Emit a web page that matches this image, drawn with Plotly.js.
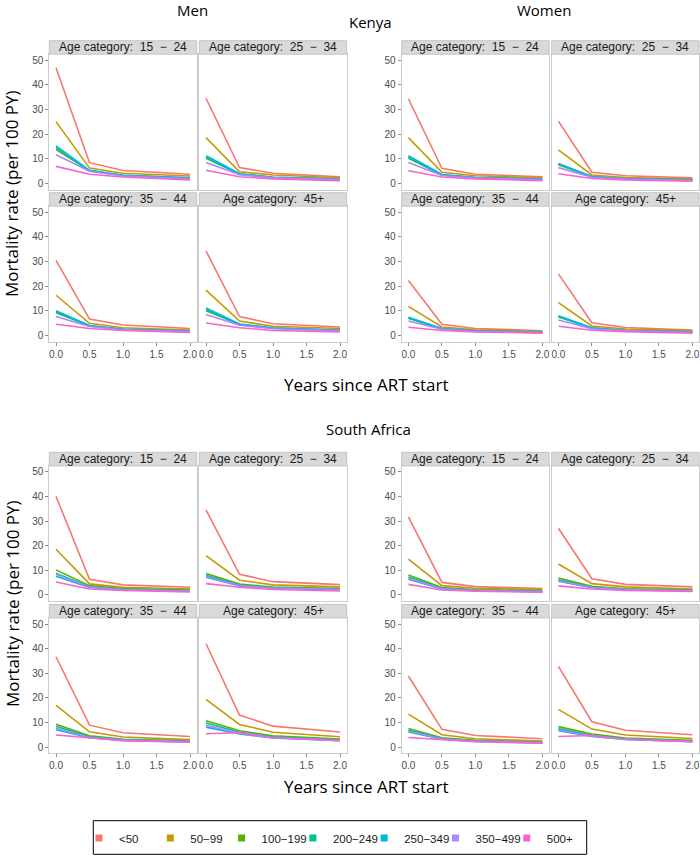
<!DOCTYPE html>
<html>
<head>
<meta charset="utf-8">
<script src="https://cdn.plot.ly/plotly-3.0.1.min.js"></script>
<style>html,body{margin:0;padding:0;background:#fff;}#chart{width:700px;height:856px;}</style>
</head>
<body>
<div id="chart"></div>
<script>
// ---- categories ----
const timePoints = [0, 0.5, 1, 1.5, 2];
const cd4Groups = ['<50', '50\u221299', '100\u2212199', '200\u2212249', '250\u2212349', '350\u2212499', '500+'];
const groupColors = ['#F8766D', '#C49A00', '#53B400', '#00C094', '#00B6EB', '#A58AFF', '#FB61D7'];
const countries = ['Kenya', 'South Africa'];
const sexes = ['Men', 'Women'];
const ageCategories = ['15  \u2212  24', '25  \u2212  34', '35  \u2212  44', '45+'];
const yTickValues = [0, 10, 20, 30, 40, 50];
const xTickValues = [0, 0.5, 1, 1.5, 2];

// ---- series: rows follow cd4Groups, columns follow timePoints ----
const kenyaMen_15_24 = [[47.0,8.4,5.2,4.4,3.7],[25.1,6.2,4.1,3.5,3.0],[13.7,5.2,3.3,2.8,2.3],[14.5,5.0,3.2,2.6,2.1],[15.2,5.3,3.3,2.7,2.2],[11.6,4.9,3.0,2.4,1.9],[6.9,3.7,2.6,2.0,1.4]];
const kenyaMen_25_34 = [[34.6,6.4,4.1,3.4,2.7],[18.6,4.7,3.4,2.8,2.3],[10.2,3.8,2.5,2.1,1.7],[10.6,3.7,2.4,2.0,1.6],[11.2,3.9,2.5,2.1,1.7],[8.5,3.5,2.3,1.9,1.5],[5.3,2.7,1.8,1.4,1.1]];
const kenyaMen_35_44 = [[30.5,6.6,4.2,3.5,2.8],[16.3,4.9,3.1,2.6,2.2],[9.2,3.9,2.5,2.1,1.7],[9.6,3.8,2.4,2.0,1.6],[10.0,4.0,2.5,2.1,1.7],[7.7,3.6,2.3,1.9,1.5],[4.5,2.8,2.0,1.6,1.2]];
const kenyaMen_45plus = [[34.3,7.6,4.7,4.0,3.4],[18.4,5.8,3.7,3.2,2.8],[10.0,4.5,3.0,2.5,2.1],[10.5,4.3,2.9,2.4,2.0],[11.1,4.6,3.0,2.5,2.1],[8.5,4.1,2.7,2.2,1.8],[5.0,3.1,2.0,1.7,1.4]];
const kenyaWomen_15_24 = [[34.4,6.1,3.7,3.2,2.7],[18.6,4.5,3.1,2.7,2.3],[10.2,3.5,2.4,2.0,1.7],[10.6,3.4,2.3,1.9,1.6],[11.2,3.6,2.4,2.0,1.7],[8.5,3.2,2.2,1.8,1.5],[5.1,2.6,1.8,1.4,1.1]];
const kenyaWomen_25_34 = [[25.3,4.5,3.1,2.7,2.3],[13.6,3.4,2.4,2.1,1.9],[7.6,2.7,1.9,1.6,1.4],[7.9,2.6,1.8,1.5,1.3],[8.1,2.8,1.9,1.6,1.4],[6.4,2.5,1.7,1.4,1.2],[3.9,2.0,1.4,1.1,0.9]];
const kenyaWomen_35_44 = [[22.3,4.5,2.8,2.3,1.9],[11.8,3.4,2.3,1.9,1.6],[7.0,2.7,1.8,1.5,1.3],[7.1,2.6,1.7,1.4,1.2],[7.4,2.8,1.8,1.5,1.3],[5.8,2.5,1.6,1.3,1.1],[3.3,2.0,1.4,1.1,0.9]];
const kenyaWomen_45plus = [[25.0,5.1,3.2,2.7,2.2],[13.3,3.8,2.6,2.2,1.9],[7.5,3.0,2.0,1.7,1.4],[7.7,2.9,1.9,1.6,1.3],[8.0,3.1,2.0,1.7,1.4],[6.2,2.7,1.8,1.5,1.2],[3.7,2.1,1.5,1.2,0.9]];
const southAfricaMen_15_24 = [[40.1,6.4,4.1,3.6,3.1],[18.6,4.5,3.1,2.8,2.4],[10.2,3.8,2.6,2.3,2.0],[8.8,3.3,2.3,2.0,1.7],[7.6,3.0,2.1,1.8,1.5],[8.4,3.2,2.2,1.9,1.6],[5.3,2.4,1.8,1.5,1.2]];
const southAfricaMen_25_34 = [[34.6,8.4,5.4,4.8,4.2],[16.0,6.0,4.1,3.7,3.3],[8.7,4.4,3.2,2.9,2.6],[8.0,4.0,2.9,2.6,2.3],[7.2,3.7,2.7,2.4,2.1],[7.5,3.8,2.8,2.5,2.2],[4.6,3.1,2.2,1.9,1.6]];
const southAfricaMen_35_44 = [[36.7,8.9,5.8,5.0,4.3],[16.9,6.2,4.1,3.5,3.0],[9.3,4.6,3.2,2.8,2.5],[8.5,4.2,3.0,2.6,2.3],[7.0,3.8,2.7,2.4,2.1],[7.7,3.9,2.8,2.5,2.2],[4.9,3.8,2.6,2.3,2.0]];
const southAfricaMen_45plus = [[42.0,13.0,8.5,7.3,6.1],[19.4,9.2,6.0,5.1,4.2],[10.7,6.6,4.6,3.9,3.3],[9.8,6.0,4.2,3.5,2.9],[8.1,5.3,3.7,3.1,2.6],[8.8,5.5,3.8,3.2,2.7],[5.4,5.8,3.9,3.2,2.6]];
const southAfricaWomen_15_24 = [[31.7,5.1,3.4,3.0,2.6],[14.6,3.8,2.7,2.4,2.2],[8.1,3.0,2.1,1.9,1.7],[7.3,2.7,1.9,1.7,1.5],[6.4,2.4,1.7,1.5,1.3],[6.8,2.5,1.8,1.6,1.4],[4.3,2.0,1.5,1.3,1.1]];
const southAfricaWomen_25_34 = [[27.1,6.6,4.3,3.8,3.3],[12.6,4.6,3.3,2.9,2.4],[6.9,3.5,2.5,2.2,2.0],[6.2,3.2,2.3,2.0,1.8],[5.6,2.9,2.1,1.8,1.6],[5.8,3.0,2.2,1.9,1.7],[3.7,2.4,1.8,1.6,1.4]];
const southAfricaWomen_35_44 = [[28.9,7.2,4.7,4.0,3.4],[13.4,5.0,3.4,2.9,2.4],[7.5,3.8,2.7,2.4,2.0],[6.8,3.5,2.5,2.2,1.8],[6.1,3.2,2.3,2.0,1.7],[6.4,3.3,2.4,2.1,1.8],[3.9,3.1,2.2,1.9,1.6]];
const southAfricaWomen_45plus = [[32.8,10.3,6.8,5.9,5.0],[15.3,7.3,4.9,4.2,3.5],[8.3,5.3,3.7,3.2,2.7],[7.5,4.8,3.4,2.9,2.4],[6.6,4.3,3.1,2.6,2.2],[7.0,4.5,3.2,2.7,2.3],[4.3,4.7,3.1,2.6,2.2]];

// panels ordered [country][sex][age]
const panelSeries = [
  [[kenyaMen_15_24, kenyaMen_25_34, kenyaMen_35_44, kenyaMen_45plus],
   [kenyaWomen_15_24, kenyaWomen_25_34, kenyaWomen_35_44, kenyaWomen_45plus]],
  [[southAfricaMen_15_24, southAfricaMen_25_34, southAfricaMen_35_44, southAfricaMen_45plus],
   [southAfricaWomen_15_24, southAfricaWomen_25_34, southAfricaWomen_35_44, southAfricaWomen_45plus]]
];

// ---- geometry (pixels) ----
const W = 700, H = 856;
const px = v => v / W;
const py = v => 1 - v / H;
const colLeft = [[49.3, 199.3], [401.7, 551.7]];
const panelW = 147.4;
const rowTop = [[54.2, 206.2], [465.8, 617.9]];
const panelH = 135.3;
const stripH = 13.5;

const tickFont = {family: 'Liberation Sans, Arial, sans-serif', size: 10, color: '#4d4d4d'};
const titleFontFamily = 'Open Sans, Noto Sans, sans-serif';

const traces = [];
const layout = {
  width: W, height: H,
  margin: {l: 0, r: 0, t: 0, b: 0},
  paper_bgcolor: '#ffffff', plot_bgcolor: '#ffffff',
  showlegend: true,
  shapes: [], annotations: []
};

let idx = 0;
for (let c = 0; c < 2; c++) {
  for (let s = 0; s < 2; s++) {
    for (let a = 0; a < 4; a++) {
      idx++;
      const r = Math.floor(a / 2), k = a % 2;
      const x0 = colLeft[s][k], x1 = x0 + panelW;
      const y0 = rowTop[c][r], y1 = y0 + panelH;
      const xName = 'xaxis' + (idx === 1 ? '' : idx);
      const yName = 'yaxis' + (idx === 1 ? '' : idx);
      const xRef = 'x' + (idx === 1 ? '' : idx);
      const yRef = 'y' + (idx === 1 ? '' : idx);
      layout[xName] = {
        domain: [px(x0), px(x1)], anchor: yRef, range: [-0.1, 2.1],
        tickvals: xTickValues, ticktext: xTickValues.map(v => v.toFixed(1)),
        showticklabels: r === 1, ticks: r === 1 ? 'outside' : '', ticklen: 3, tickcolor: '#8c8c8c',
        tickfont: tickFont, showgrid: false, zeroline: false,
        showline: true, mirror: true, linecolor: '#cbcbcb', linewidth: 1, fixedrange: true
      };
      layout[yName] = {
        domain: [py(y1), py(y0)], anchor: xRef, range: [-2.5, 52.5],
        tickvals: yTickValues, showticklabels: k === 0, ticks: k === 0 ? 'outside' : '', ticklen: 3, tickcolor: '#8c8c8c',
        tickfont: tickFont, showgrid: false, zeroline: false,
        showline: true, mirror: true, linecolor: '#cbcbcb', linewidth: 1, fixedrange: true
      };
      const series = panelSeries[c][s][a];
      for (let g = 0; g < cd4Groups.length; g++) {
        traces.push({
          type: 'scatter', mode: 'lines', x: timePoints, y: series[g],
          xaxis: xRef, yaxis: yRef, name: cd4Groups[g], showlegend: false,
          line: {color: groupColors[g], width: 1.6}, hoverinfo: 'skip'
        });
      }
      // strip
      layout.shapes.push({type: 'rect', xref: 'paper', yref: 'paper',
        x0: px(x0), x1: px(x1), y0: py(y0), y1: py(y0 - stripH),
        fillcolor: '#d9d9d9', line: {color: '#c4c4c4', width: 1}});
      layout.annotations.push({xref: 'paper', yref: 'paper', x: px((x0 + x1) / 2), y: py(y0 - stripH / 2),
        text: 'Age category:  ' + ageCategories[a], showarrow: false, xanchor: 'center', yanchor: 'middle',
        font: {family: 'Liberation Sans, Arial, sans-serif', size: 12, color: '#1a1a1a'}});
    }
  }
}

// legend entries
for (let g = 0; g < cd4Groups.length; g++) {
  traces.push({type: 'scatter', mode: 'markers', x: [null], y: [null], xaxis: 'x', yaxis: 'y',
    name: cd4Groups[g], showlegend: true, marker: {symbol: 'square', size: 7, color: groupColors[g]}});
}
layout.legend = {orientation: 'h', x: px(79), xanchor: 'left', y: py(838), yanchor: 'middle',
  bgcolor: 'rgba(0,0,0,0)', borderwidth: 0, entrywidth: 26.3, entrywidthmode: 'pixels',
  font: {family: 'Liberation Sans, Arial, sans-serif', size: 11.5, color: '#1a1a1a'}, traceorder: 'normal'};
layout.shapes.push({type: 'rect', xref: 'paper', yref: 'paper', x0: px(93.3), x1: px(586.7), y0: py(854.3), y1: py(820.7),
  fillcolor: 'rgba(0,0,0,0)', line: {color: '#000000', width: 1}});

// titles
const addText = (text, x, y, size, angle) => layout.annotations.push({xref: 'paper', yref: 'paper',
  x: px(x), y: py(y), text: text, showarrow: false, xanchor: 'center', yanchor: 'middle', textangle: angle || 0,
  font: {family: titleFontFamily, size: size, color: '#000000'}});
addText(sexes[0], 192, 10, 15);
addText(sexes[1], 544, 10, 15);
addText(countries[0], 370, 22, 15);
addText(countries[1], 368, 429, 15);
addText('Mortality rate (per 100 PY)', 12, 194, 17, -90);
addText('Mortality rate (per 100 PY)', 12, 604, 17, -90);
addText('Years since ART start', 367, 384, 17);
addText('Years since ART start', 367, 786, 17);

Plotly.newPlot('chart', traces, layout, {staticPlot: true, displayModeBar: false});
</script>
</body>
</html>
